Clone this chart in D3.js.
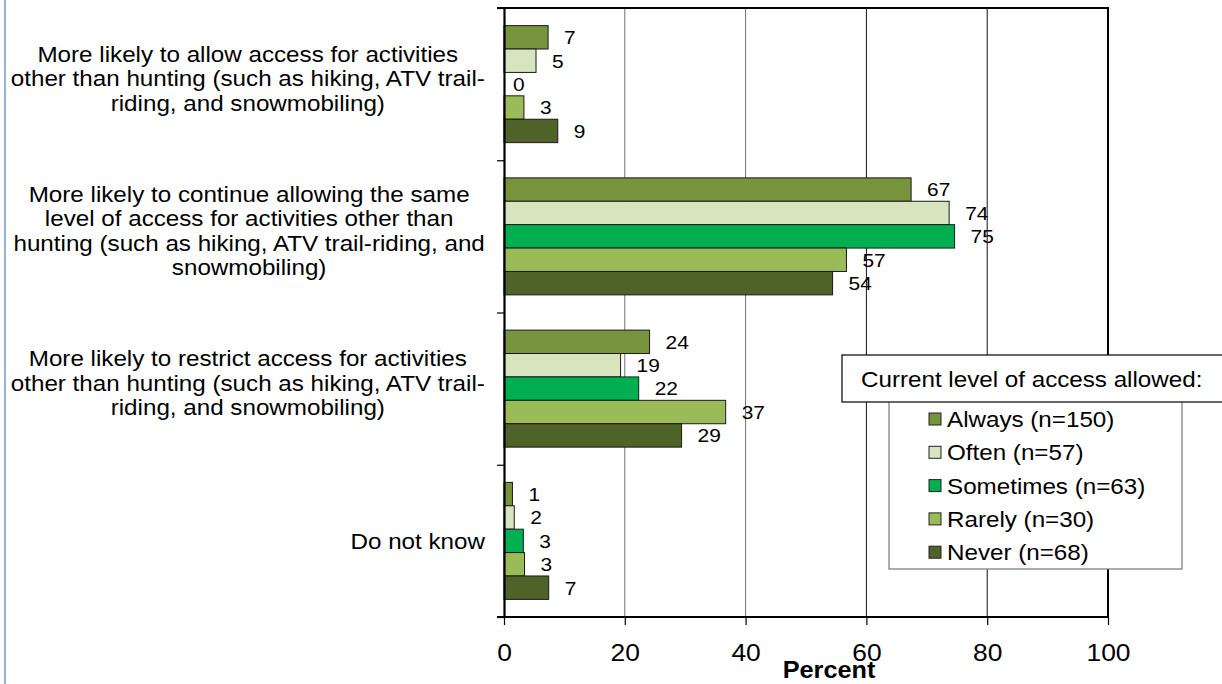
<!DOCTYPE html>
<html><head><meta charset="utf-8">
<script src="https://cdn.jsdelivr.net/npm/d3@7"></script>
<style>
body{margin:0;background:#fff;}
svg{display:block;font-family:Arial,"Liberation Sans",sans-serif;}
</style>
</head><body>
<svg id="chart" width="1222" height="684"></svg>
<script>
// ---- data ----
const categories = ["allow", "continue", "restrict", "dontknow"];
const categoryLines = [
  ["More likely to allow access for activities", "other than hunting (such as hiking, ATV trail-", "riding, and snowmobiling)"],
  ["More likely to continue allowing the same", "level of access for activities other than", "hunting (such as hiking, ATV trail-riding, and", "snowmobiling)"],
  ["More likely to restrict access for activities", "other than hunting (such as hiking, ATV trail-", "riding, and snowmobiling)"],
  ["Do not know"]
];
const seriesNames = ["Always (n=150)", "Often (n=57)", "Sometimes (n=63)", "Rarely (n=30)", "Never (n=68)"];
const seriesColors = ["#77933C", "#D7E4BD", "#00B050", "#9BBB59", "#4F6228"];
const always    = [7.3, 67.4, 24.1, 1.4];
const often     = [5.3, 73.7, 19.3, 1.7];
const sometimes = [0,   74.6, 22.3, 3.2];
const rarely    = [3.3, 56.7, 36.7, 3.4];
const never     = [8.9, 54.4, 29.4, 7.4];
const xTicks = [0, 20, 40, 60, 80, 100];
const legendTitle = "Current level of access allowed:";
const xTitle = "Percent";

const seriesValues = [always, often, sometimes, rarely, never];

// ---- layout ----
const SX = 1.1; // horizontal text stretch seen in reference
const X0 = 504, X1 = 1108, Y0 = 8, Y1 = 617;
const svg = d3.select("#chart");

const x = d3.scaleLinear().domain([0, 100]).range([X0, X1]);
const y0 = d3.scaleBand().domain(categories).range([Y0, Y1]).padding(0);
const y1 = d3.scaleBand().domain(seriesNames).range([0, y0.bandwidth()]).paddingInner(0).paddingOuter(0.753);
const color = d3.scaleOrdinal().domain(seriesNames).range(seriesColors);

// left blue border line
svg.append("line").attr("x1", 5).attr("x2", 5).attr("y1", 0).attr("y2", 684)
  .attr("stroke", "#95B3D7").attr("stroke-width", 2);

// gridlines
svg.append("g").selectAll("line").data(xTicks.filter(t => t > 0 && t < 100)).join("line")
  .attr("x1", d => x(d)).attr("x2", d => x(d)).attr("y1", Y0).attr("y2", Y1)
  .attr("stroke", d => d < 50 ? "#6f6f6f" : "#111").attr("stroke-width", 1);

// frame (top/right)
svg.append("path").attr("d", `M${X0 - 7},${Y0}H${X1}V${Y1}`).attr("fill", "none")
  .attr("stroke", "#000").attr("stroke-width", 2);

// bars
const rows = [];
categories.forEach((c, ci) => seriesNames.forEach((s, si) => rows.push({c, s, v: seriesValues[si][ci]})));

const barG = svg.append("g");
barG.selectAll("rect").data(rows).join("rect")
  .attr("x", x(0))
  .attr("y", d => y0(d.c) + y1(d.s))
  .attr("width", d => x(d.v) - x(0))
  .attr("height", y1.bandwidth())
  .attr("fill", d => color(d.s))
  .attr("stroke", "#1a1a1a").attr("stroke-width", 1);

// data labels
const fmt = d3.format(".0f");
barG.selectAll("text").data(rows).join("text")
  .attr("transform", d => `translate(${x(d.v) + (d.v === 0 ? 9 : 16)},${y0(d.c) + y1(d.s) + y1.bandwidth() / 2}) scale(${SX},1)`)
  .attr("dy", "0.36em")
  .attr("font-size", 19).attr("fill", "#000")
  .text(d => fmt(d.v));

// x axis
const xAxis = svg.append("g").attr("transform", `translate(0,${Y1})`)
  .call(d3.axisBottom(x).tickValues(xTicks).tickSize(8).tickSizeOuter(0));
xAxis.select(".domain").attr("stroke", "#000").attr("stroke-width", 2)
  .attr("d", `M${X0 - 7},0H${X1}`);
xAxis.selectAll(".tick line").attr("stroke", "#000").attr("stroke-width", 1.2);
xAxis.selectAll(".tick text").attr("y", 44).attr("dy", null)
  .attr("font-size", 24).attr("font-family", "Arial, 'Liberation Sans', sans-serif").attr("fill", "#000")
  .attr("transform", `scale(${SX},1)`);

// y axis (category boundaries)
const yLin = d3.scaleLinear().domain([0, categories.length]).range([Y0, Y1]);
const yAxis = svg.append("g").attr("transform", `translate(${X0},0)`)
  .call(d3.axisLeft(yLin).tickValues(d3.range(categories.length + 1)).tickFormat("").tickSize(7).tickSizeOuter(0));
yAxis.select(".domain").attr("stroke", "#000").attr("stroke-width", 2.2);
yAxis.selectAll(".tick line").attr("stroke", "#000").attr("stroke-width", 1.2);

// category labels
const RIGHT = 485, LH = 24.5;
categories.forEach((c, ci) => {
  const lines = categoryLines[ci];
  const g = svg.append("g");
  const cy = y0(c) + y0.bandwidth() / 2 + (lines.length > 1 ? -6 : 0);
  const texts = g.selectAll("text").data(lines).join("text")
    .attr("font-size", 22).attr("fill", "#000").attr("text-anchor", "middle")
    .attr("dy", "0.36em")
    .text(d => d);
  const maxW = d3.max(texts.nodes(), n => n.getComputedTextLength()) * SX;
  const cx = RIGHT - maxW / 2;
  texts.attr("transform", (d, i) => `translate(${cx},${cy + (i - (lines.length - 1) / 2) * LH}) scale(${SX},1)`);
});

// x axis title
svg.append("text").attr("transform", `translate(829,678) scale(${SX},1)`)
  .attr("text-anchor", "middle").attr("font-size", 23).attr("font-weight", "bold").attr("fill", "#000")
  .text(xTitle);

// legend
const leg = svg.append("g");
leg.append("rect").attr("x", 889).attr("y", 385).attr("width", 293).attr("height", 184)
  .attr("fill", "#fff").attr("stroke", "#777").attr("stroke-width", 1.2);
const items = leg.selectAll("g.item").data(seriesNames).join("g").attr("class", "item")
  .attr("transform", (d, i) => `translate(929,${419 + i * 33.3})`);
items.append("rect").attr("x", 0).attr("y", -6).attr("width", 12).attr("height", 12)
  .attr("fill", d => color(d)).attr("stroke", "#222").attr("stroke-width", 1);
items.append("text").attr("transform", `translate(18,0) scale(${SX},1)`).attr("dy", "0.36em")
  .attr("font-size", 22).attr("fill", "#000").text(d => d);

leg.append("rect").attr("x", 842).attr("y", 355).attr("width", 400).attr("height", 47)
  .attr("fill", "#fff").attr("stroke", "#000").attr("stroke-width", 1.2);
leg.append("text").attr("transform", `translate(861,379) scale(${SX},1)`).attr("dy", "0.36em")
  .attr("font-size", 22).attr("fill", "#000").text(legendTitle);
</script>
</body></html>
